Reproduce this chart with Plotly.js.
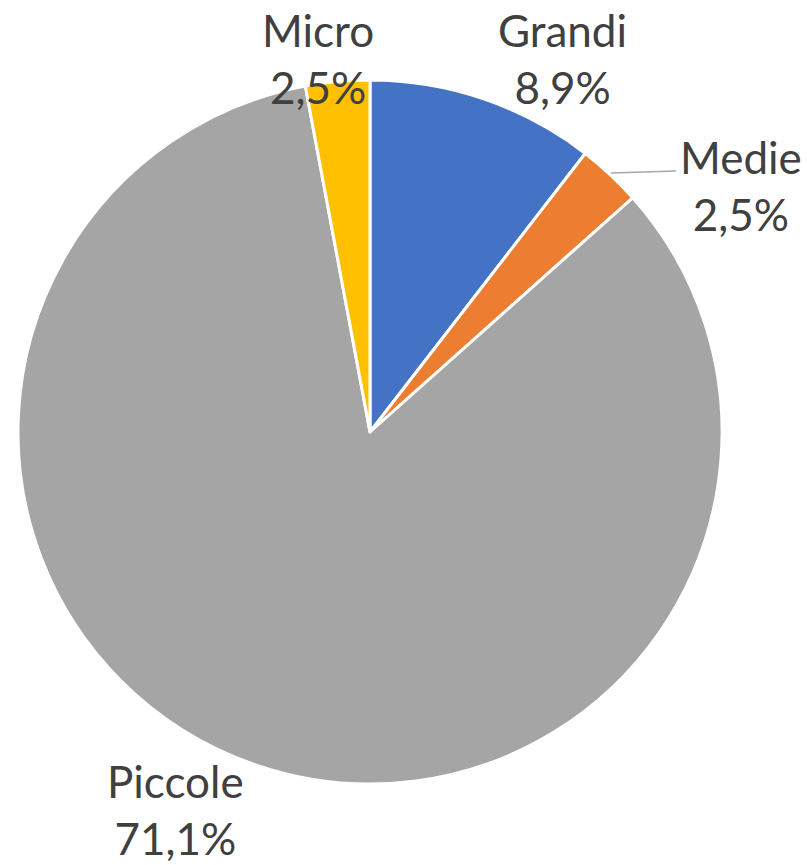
<!DOCTYPE html>
<html>
<head>
<meta charset="utf-8">
<script src="https://cdn.plot.ly/plotly-3.0.1.min.js"></script>
<style>html,body{margin:0;padding:0;background:#fff;}#chart{width:807px;height:865px;}</style>
</head>
<body>
<div id="chart"></div>
<script>
const categories = ["Grandi", "Medie", "Piccole", "Micro"];
const values = [8.9, 2.5, 71.1, 2.5];
const valueLabels = ["8,9%", "2,5%", "71,1%", "2,5%"];
const colors = ["#4472C4", "#ED7D31", "#A5A5A5", "#FFC000"];

// label placement (paper coords)
const labelX = [0.6976, 0.918, 0.2169, 0.394];
const labelY = [0.9318, 0.785, 0.0636, 0.9318];

const trace = {
  type: "pie",
  labels: categories,
  values: values,
  sort: false,
  direction: "clockwise",
  rotation: 0,
  textinfo: "none",
  hoverinfo: "label+value",
  marker: {colors: colors, line: {color: "#ffffff", width: 3}},
  domain: {x: [18/807, 722/807], y: [1 - 784/865, 1 - 80/865]},
  showlegend: false
};

const annotations = categories.map((c, i) => ({
  xref: "paper", yref: "paper",
  x: labelX[i], y: labelY[i],
  xanchor: "center", yanchor: "middle",
  text: c + "<br>" + valueLabels[i],
  showarrow: false,
  align: "center",
  font: {family: "Lato, 'Liberation Sans', sans-serif", size: 44, color: "#404040"}
}));

const layout = {
  width: 807, height: 865,
  margin: {l: 0, r: 0, t: 0, b: 0},
  paper_bgcolor: "#ffffff",
  annotations: annotations,
  shapes: [{
    type: "line", xref: "paper", yref: "paper",
    x0: 611/807, y0: 1 - 173/865, x1: 676/807, y1: 1 - 171/865,
    line: {color: "#A6A6A6", width: 1.5}
  }]
};

Plotly.newPlot("chart", [trace], layout, {displayModeBar: false});
</script>
</body>
</html>
